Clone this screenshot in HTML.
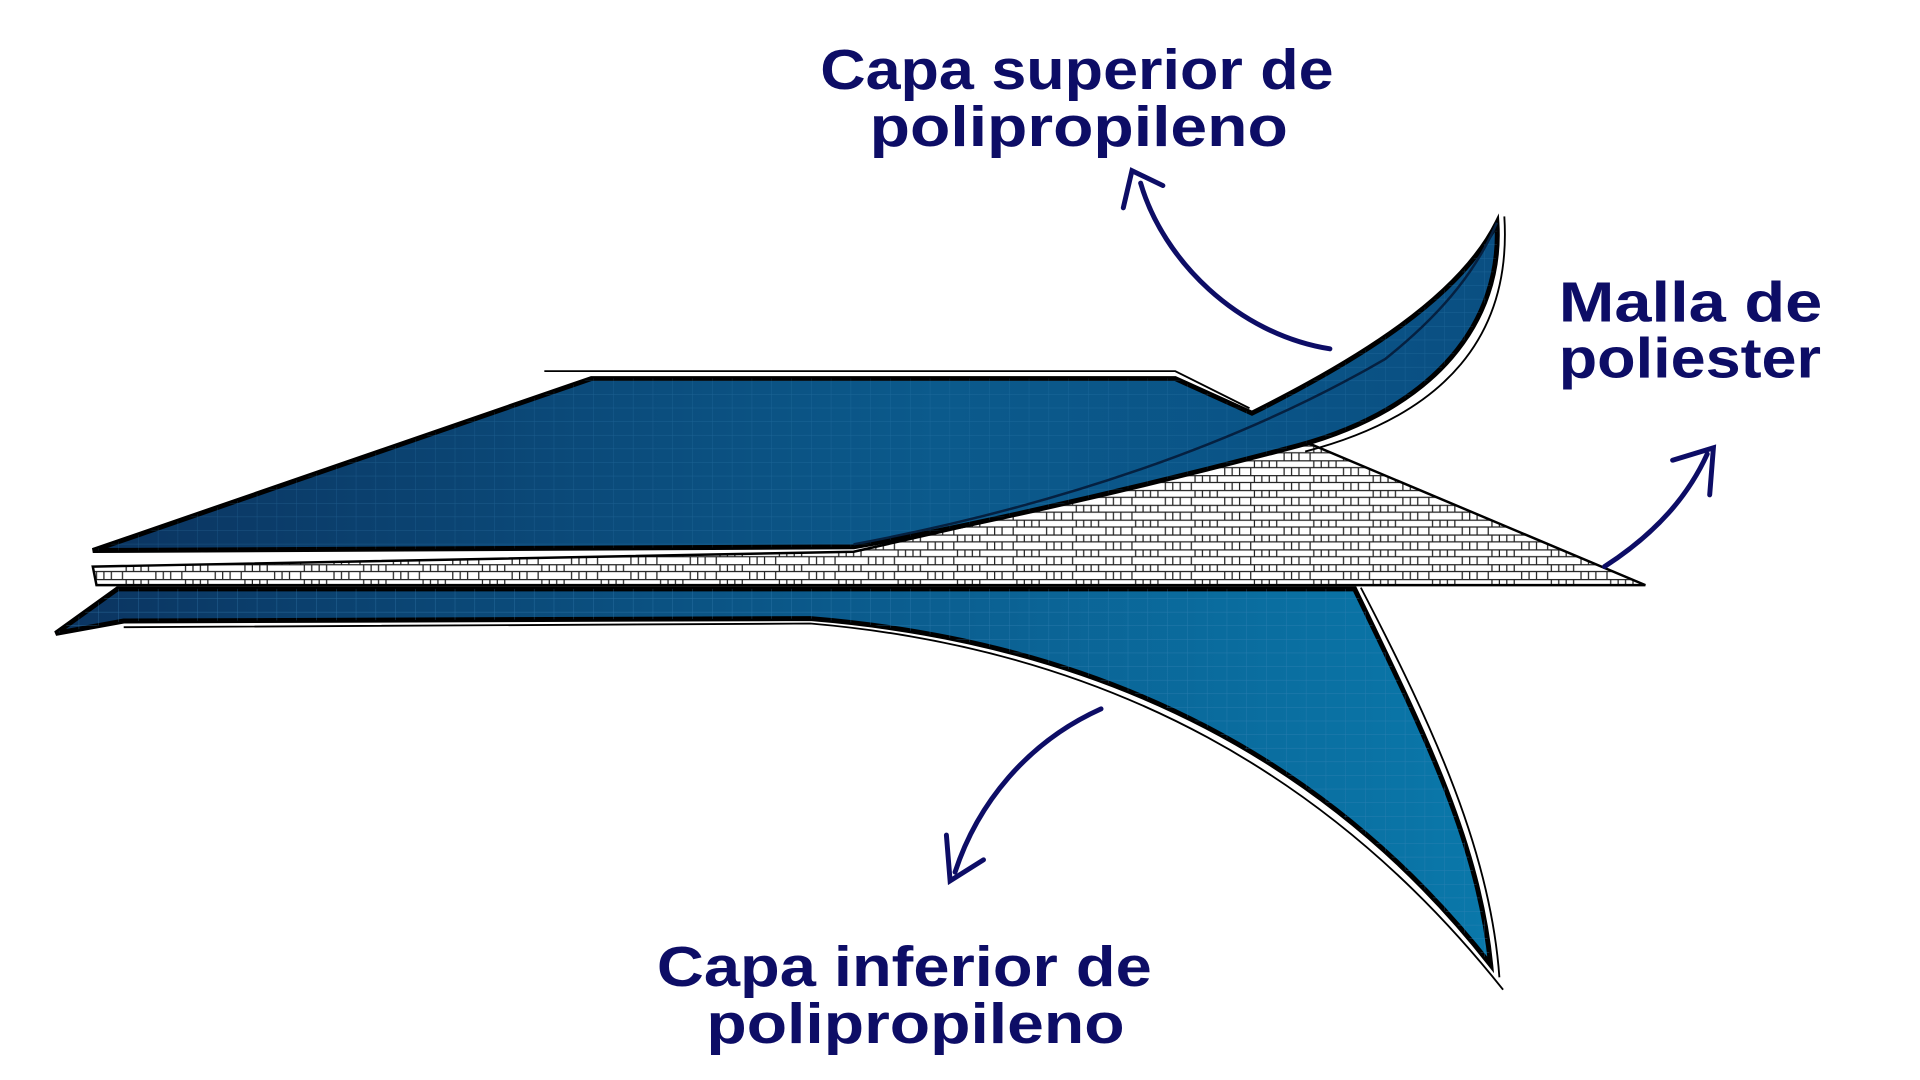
<!DOCTYPE html>
<html><head><meta charset="utf-8"><style>html,body{margin:0;padding:0;background:#fff;overflow:hidden}svg{display:block}</style></head>
<body>
<svg width="1920" height="1080" viewBox="0 0 1552 873" preserveAspectRatio="none" xmlns="http://www.w3.org/2000/svg">
<defs>
<linearGradient id="gt" x1="0" y1="0" x2="1" y2="0"><stop offset="0" stop-color="#0b3460"/><stop offset="0.6" stop-color="#0b5a8c"/><stop offset="1" stop-color="#0a4f82"/></linearGradient>
<linearGradient id="gb" x1="0" y1="0" x2="1" y2="0"><stop offset="0" stop-color="#0b3460"/><stop offset="0.6" stop-color="#0b5e90"/><stop offset="1" stop-color="#0a78aa"/></linearGradient>
<pattern id="grid" width="16" height="11" patternUnits="userSpaceOnUse"><path d="M16 0V11M0 11H16" stroke="#3a86b8" stroke-width="0.7" fill="none" opacity="0.6"/></pattern>
<pattern id="mesh" width="48" height="12" patternUnits="userSpaceOnUse"><rect width="48" height="12" fill="#fff"/><path d="M0 0.5H48M0 6H48M6 0V6M12 0V6M18 0V6M24 0V6M30 6V12M36 6V12M42 6V12M3 6V12" stroke="#222" stroke-width="1" fill="none"/></pattern>
</defs>
<!-- bottom layer -->
<path d="M45,512 L95,476 L1095,476 C1150,590 1195,680 1205,780 C1080,620 900,520 655,500 L100,502 Z" fill="url(#gb)" stroke="#000" stroke-width="4"/>
<path d="M45,512 L95,476 L1095,476 C1150,590 1195,680 1205,780 C1080,620 900,520 655,500 L100,502 Z" fill="url(#grid)"/>
<path d="M100,507 L655,504 C900,525 1080,630 1215,800 M1100,475 C1160,590 1205,690 1212,790" stroke="#000" stroke-width="1.5" fill="none"/>
<!-- mesh -->
<path d="M75,458 L690,446 C850,410 960,385 1050,355 L1330,473 L78,473 Z" fill="url(#mesh)" stroke="#000" stroke-width="2"/>
<!-- top layer -->
<path d="M75,445 L478,306 L950,306 L1012,334 C1100,290 1180,240 1210,180 C1215,260 1160,330 1050,360 C900,400 760,430 690,442 Z" fill="url(#gt)" stroke="#000" stroke-width="4"/>
<path d="M75,445 L478,306 L950,306 L1012,334 C1100,290 1180,240 1210,180 C1215,260 1160,330 1050,360 C900,400 760,430 690,442 Z" fill="url(#grid)" opacity="0.6"/>
<path d="M440,300 L950,300 L1010,330 M1216,175 C1222,270 1170,335 1055,365" stroke="#000" stroke-width="1.5" fill="none"/>
<path d="M690,440 C850,410 1000,360 1120,290 C1170,250 1195,215 1210,180" stroke="#052040" stroke-width="2" fill="none"/>
<!-- arrows -->
<g stroke="#0d0d66" stroke-width="4" fill="none" stroke-linecap="round">
<path d="M1075,282 C1000,270 940,210 922,148"/>
<path d="M908,168 L915,138 L940,150"/>
<path d="M1297,458 C1340,430 1365,400 1380,367"/>
<path d="M1352,372 L1385,362 L1382,400"/>
<path d="M890,573 C830,600 790,650 772,705"/>
<path d="M765,675 L768,712 L795,695"/>
</g>
<!-- labels -->
<g fill="#0d0d66" font-family="'Liberation Sans',sans-serif" font-weight="bold" font-size="46">
<text x="663" y="72" textLength="415" lengthAdjust="spacingAndGlyphs">Capa superior de</text>
<text x="703" y="118" textLength="338" lengthAdjust="spacingAndGlyphs">polipropileno</text>
<text x="1260" y="260" textLength="213" lengthAdjust="spacingAndGlyphs">Malla de</text>
<text x="1260" y="305" textLength="212" lengthAdjust="spacingAndGlyphs">poliester</text>
<text x="531" y="797" textLength="400" lengthAdjust="spacingAndGlyphs">Capa inferior de</text>
<text x="571" y="843" textLength="338" lengthAdjust="spacingAndGlyphs">polipropileno</text>
</g>
</svg>
</body></html>
